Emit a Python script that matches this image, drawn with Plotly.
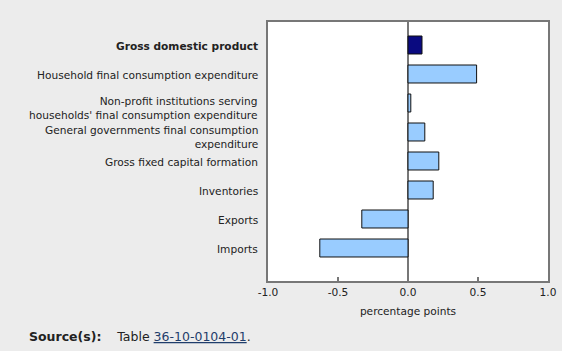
import plotly.graph_objects as go

categories = [
    "<b>Gross domestic product</b>",
    "Household final consumption expenditure",
    "Non-profit institutions serving<br>households' final consumption expenditure",
    "General governments final consumption<br>expenditure",
    "Gross fixed capital formation",
    "Inventories",
    "Exports",
    "Imports",
]
values = [0.10, 0.49, 0.02, 0.12, 0.22, 0.18, -0.33, -0.63]
bar_colors = ["#0a0a80"] + ["#99ccff"] * 7
x_ticks = [-1.0, -0.5, 0.0, 0.5, 1.0]
x_tick_labels = ["-1.0", "-0.5", "0.0", "0.5", "1.0"]

FONT = "DejaVu Sans"

fig = go.Figure(
    go.Bar(
        x=values,
        y=categories,
        orientation="h",
        marker=dict(color=bar_colors, line=dict(color="#111111", width=1)),
        width=0.62,
        hoverinfo="x+y",
    )
)

label_annotations = [
    dict(
        xref="paper", yref="y",
        x=0, y=cat,
        xanchor="right", yanchor="middle", align="right",
        xshift=-8,
        yshift=-5 if "<br>" in cat else -1,
        text=cat,
        showarrow=False,
        font=dict(family=FONT, size=10.6, color="#222222"),
    )
    for cat in categories
]

source_annotation = dict(
    xref="paper", yref="paper",
    x=(27 - 268) / 280, y=-(336 - 281) / 259,
    xanchor="left", yanchor="middle",
    text="<b>Source(s):</b>    Table <span style='text-decoration:underline;color:#1f3d6b'>36-10-0104-01</span>.",
    showarrow=False,
    font=dict(family=FONT, size=12.5, color="#222222"),
)

fig.update_layout(
    width=562,
    height=351,
    margin=dict(l=268, r=14, t=22, b=70, autoexpand=False),
    paper_bgcolor="#ececec",
    plot_bgcolor="#ffffff",
    showlegend=False,
    font=dict(family=FONT, size=10.6, color="#222222"),
    xaxis=dict(
        range=[-1.0, 1.0],
        tickvals=x_ticks,
        ticktext=x_tick_labels,
        showgrid=False,
        zeroline=True,
        zerolinecolor="#777777",
        zerolinewidth=2,
        showline=True,
        mirror=True,
        linecolor="#777777",
        linewidth=2,
        ticks="inside",
        ticklen=4,
        tickwidth=2,
        tickcolor="#777777",
        automargin=False,
        title=dict(text="percentage points", font=dict(size=10.6, family=FONT), standoff=11),
        fixedrange=True,
    ),
    yaxis=dict(
        type="category",
        categoryorder="array",
        categoryarray=categories,
        range=[7 + 33 / 29, -23 / 29],
        showgrid=False,
        showline=True,
        mirror=True,
        linecolor="#777777",
        linewidth=2,
        ticks="",
        showticklabels=False,
        automargin=False,
        fixedrange=True,
    ),
    annotations=label_annotations + [source_annotation],
)

fig.write_html("out.html")
